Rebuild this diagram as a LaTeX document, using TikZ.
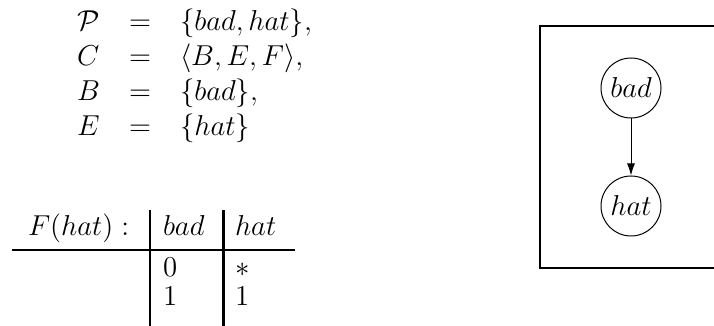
\documentclass[tikz,border=0pt]{standalone}
\usetikzlibrary{arrows.meta}
\begin{document}
\begin{tikzpicture}[x=0.5pt,y=-0.5pt,
  txt/.style={inner sep=0pt,outer sep=0pt,font=\fontsize{15.5}{19}\selectfont},
  lft/.style={txt,anchor=base west},
  mid/.style={txt,anchor=base},
  var/.style={circle,draw,line width=0.5pt,minimum size=30pt,inner sep=0pt,font=\fontsize{15.5}{19}\selectfont},
  rule/.style={line width=1pt},
  thickrule/.style={line width=1.5pt},
  frame/.style={line width=1.2pt}]
\useasboundingbox (0,0) rectangle (714,326);
% equations
\node[lft] (l1) at (77,31) {$\mathcal{P}$};
\node[mid] (e1) at (140,31) {$=$};
\node[lft] (r1) at (180,31) {$\{bad,hat\},$};
\node[lft] (l2) at (77,66) {$C$};
\node[mid] (e2) at (140,66) {$=$};
\node[lft] (r2) at (180,66) {$\langle B,E,F\rangle,$};
\node[lft] (l3) at (77,101) {$B$};
\node[mid] (e3) at (140,101) {$=$};
\node[lft] (r3) at (180,101) {$\{bad\},$};
\node[lft] (l4) at (77,136) {$E$};
\node[mid] (e4) at (140,136) {$=$};
\node[lft] (r4) at (180,136) {$\{hat\}$};
% table
\node[lft] (th) at (28,236) {$F(hat):$};
\node[lft] (tb) at (163,236) {$bad$};
\node[lft] (tt) at (235,236) {$hat$};
\node[lft] (c0) at (163,277) {$0$};
\node[lft] (cs) at (235,277) {$*$};
\node[lft] (c1) at (163,306) {$1$};
\node[lft] (c2) at (235,306) {$1$};
\coordinate (hl) at (12,250);
\coordinate (hr) at (295,250);
\coordinate (v1t) at (150,210);
\coordinate (v1b) at (150,330);
\coordinate (v2t) at (223,210);
\coordinate (v2b) at (223,330);
\draw[rule] (hl) -- (hr);
\draw[rule] (v1t) -- (v1b);
\draw[thickrule] (v2t) -- (v2b);
% graph box
\coordinate (bx1) at (540,26);
\coordinate (bx2) at (720,268);
\draw[frame] (bx1) rectangle (bx2);
\node[var] (bad) at (631,88) {$bad$};
\node[var] (hat) at (631,206) {$hat$};
\draw[line width=0.5pt,-{Latex[length=6pt,width=4pt]}] (bad) -- (hat);
\end{tikzpicture}
\end{document}
